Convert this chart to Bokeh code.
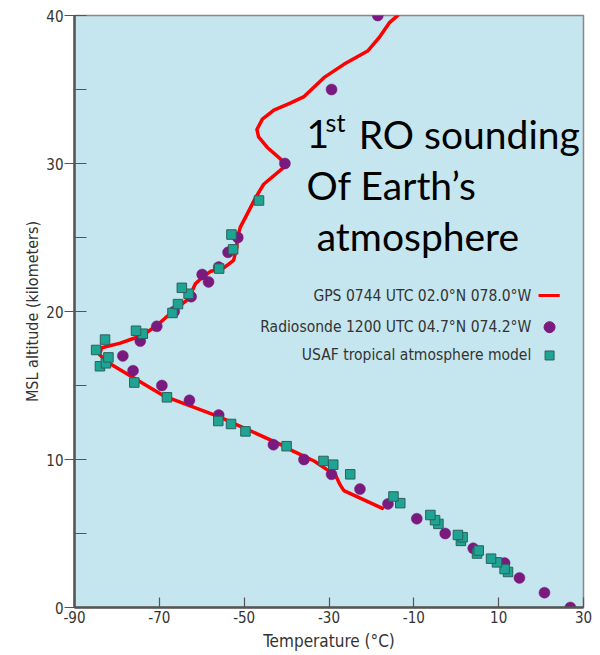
from bokeh.plotting import figure
from bokeh.models import FixedTicker, Range1d
from bokeh.core.properties import value
from bokeh.embed import file_html
from bokeh.resources import INLINE

# ---- data ----
gps_temp = [-17.4, -26.5, -27.4, -28.4, -30.4, -33.5, -38.7, -39.8, -56.0, -69.0,
            -82.4, -84.1, -83.6, -79.2, -75.3, -72.9, -70.6, -66.6, -63.1, -61.5,
            -59.9, -58.0, -54.8, -52.5, -51.7, -51.7, -50.9, -48.9, -47.3, -45.4,
            -40.6, -41.4, -44.6, -46.6, -47.0, -45.7, -43.0, -39.0, -36.0, -31.2,
            -26.5, -20.9, -18.2, -15.8, -13.8]
gps_alt = [6.7, 7.9, 8.3, 8.9, 9.3, 9.9, 10.6, 10.8, 12.9, 14.3,
           16.6, 17.1, 17.55, 17.86, 18.26, 18.6, 19.05, 20.07, 20.86, 21.87,
           22.3, 22.7, 22.95, 23.45, 24.35, 24.9, 25.7, 26.8, 27.7, 28.6,
           29.75, 30.3, 31.1, 31.8, 32.3, 33.0, 33.6, 34.1, 34.5, 35.8,
           36.7, 37.6, 38.5, 39.5, 40.0]

sonde_temp = [26.9, 20.8, 14.9, 11.4, 4.0, -2.6, -9.3, -16.1, -22.7, -29.4,
              -35.9, -43.1, -56.0, -62.9, -69.4, -76.2, -78.6, -74.5, -70.6, -66.5,
              -62.5, -58.4, -59.9, -56.0, -53.8, -51.5, -40.4, -29.4, -18.5]
sonde_alt = [0.0, 1.0, 2.0, 3.0, 4.0, 5.0, 6.0, 7.0, 8.0, 9.0,
             10.0, 11.0, 13.0, 14.0, 15.0, 16.0, 17.0, 18.0, 19.0, 20.0,
             21.0, 22.0, 22.5, 23.0, 24.0, 25.0, 30.0, 35.0, 40.0]

usaf_temp = [12.2, 11.4, 9.6, 8.2, 4.9, 5.3, 1.1, 1.5, 0.4, -4.2,
             -5.0, -6.1, -13.2, -14.8, -25.0, -29.0, -31.3, -40.0, -49.7, -53.1,
             -56.1, -68.2, -75.9, -84.0, -82.6, -82.0, -84.9, -82.8, -73.9, -75.5,
             -66.9, -65.6, -63.1, -64.7, -55.9, -52.6, -53.0, -46.5]
usaf_alt = [2.4, 2.6, 3.05, 3.3, 3.65, 3.85, 4.5, 4.75, 4.9, 5.65,
            5.9, 6.25, 7.05, 7.5, 9.0, 9.65, 9.9, 10.9, 11.9, 12.4,
            12.6, 14.2, 15.2, 16.3, 16.5, 16.9, 17.4, 18.1, 18.5, 18.7,
            19.9, 20.5, 21.2, 21.6, 22.9, 24.2, 25.2, 27.5]

x_ticks = [-90, -70, -50, -30, -10, 10, 30]
y_ticks = [0, 10, 20, 30, 40]
y_minor = [5, 15, 25, 35]

legend_labels = ["GPS 0744 UTC 02.0\u00b0N 078.0\u00b0W",
                 "Radiosonde 1200 UTC 04.7\u00b0N 074.2\u00b0W",
                 "USAF tropical atmosphere model"]

# ---- style ----
BG = "#c5e6ee"
RED = "#ff0000"
PURPLE = "#7b1a7e"
TEAL = "#1fa393"
TEAL_EDGE = "#2b625e"
AXIS_FONT = "DejaVu Sans Condensed"
TXT = "#333333"

p = figure(width=592, height=653, output_backend="svg", toolbar_location=None,
           x_range=Range1d(-90, 30), y_range=Range1d(0, 40),
           min_border_left=74, min_border_right=9, min_border_top=15, min_border_bottom=46)
p.background_fill_color = BG
p.border_fill_color = "white"
p.outline_line_color = "#888888"
p.outline_line_width = 1.5
p.grid.visible = False

p.xaxis.ticker = FixedTicker(ticks=x_ticks, minor_ticks=[])
p.yaxis.ticker = FixedTicker(ticks=y_ticks, minor_ticks=y_minor)
p.xaxis.major_label_overrides = {t: str(t) for t in x_ticks}
p.yaxis.major_label_overrides = {t: str(t) for t in y_ticks}

for ax in (p.xaxis[0], p.yaxis[0]):
    ax.axis_line_color = "#555555"
    ax.axis_line_width = 2.5
    ax.major_tick_line_color = "#555555"
    ax.minor_tick_line_color = "#555555"
    ax.major_tick_line_width = 1.2
    ax.minor_tick_line_width = 1.2
    ax.major_label_text_font = AXIS_FONT
    ax.major_label_text_font_size = "15px"
    ax.major_label_text_color = TXT
    ax.axis_label_text_font = AXIS_FONT
    ax.axis_label_text_font_style = "normal"
    ax.axis_label_text_color = TXT

p.xaxis.major_tick_in = 10
p.xaxis.major_tick_out = 0
p.xaxis.major_label_standoff = 3
p.xaxis.axis_label = "Temperature (\u00b0C)"
p.xaxis.axis_label_text_font_size = "17px"
p.xaxis.axis_label_standoff = 5

p.yaxis.major_tick_in = 12
p.yaxis.major_tick_out = 10
p.yaxis.minor_tick_in = 12
p.yaxis.minor_tick_out = 0
p.yaxis.major_label_standoff = 1
p.yaxis.axis_label = "MSL altitude (kilometers)"
p.yaxis.axis_label_text_font_size = "16px"
p.yaxis.axis_label_standoff = 1

# ---- data marks ----
p.line(gps_temp, gps_alt, line_color=RED, line_width=3.5, line_join="round", line_cap="round")
p.scatter(sonde_temp, sonde_alt, marker="circle", size=11, fill_color=PURPLE,
          line_color=PURPLE, line_width=0.5)
p.scatter(usaf_temp, usaf_alt, marker="square", size=9.5, fill_color=TEAL,
          line_color=TEAL_EDGE, line_width=1)

# ---- legend (text on the left, glyph on the right) ----
leg_x = 17.7
leg_y = [21.08, 18.94, 17.03]
p.text(x=[leg_x] * 3, y=leg_y, text=legend_labels, text_align="right",
       text_baseline="middle", text_font=value(AXIS_FONT), text_font_size="15.5px",
       text_color=TXT)
p.segment(x0=[19.4], y0=[leg_y[0]], x1=[24.4], y1=[leg_y[0]], line_color=RED, line_width=3)
p.scatter([22.0], [leg_y[1]], marker="circle", size=11, fill_color=PURPLE, line_color=PURPLE)
p.scatter([22.0], [leg_y[2]], marker="square", size=9, fill_color=TEAL,
          line_color=TEAL_EDGE, line_width=1)

# ---- big annotation ----
BIG = "Lato"
FS = "39px"
p.text(x=[-35.3], y=[32.0], text=["1"], text_font=value(BIG), text_font_size=FS,
       text_baseline="alphabetic", text_align="left", text_color="black")
p.text(x=[-30.8], y=[32.8], text=["st"], text_font=value(BIG), text_font_size="25px",
       text_baseline="alphabetic", text_align="left", text_color="black")
p.text(x=[-23.0], y=[32.0], text=["RO sounding"], text_font=value(BIG), text_font_size=FS,
       text_baseline="alphabetic", text_align="left", text_color="black")
p.text(x=[-35.3], y=[28.57], text=["Of Earth\u2019s"], text_font=value(BIG), text_font_size=FS,
       text_baseline="alphabetic", text_align="left", text_color="black")
p.text(x=[-32.9], y=[25.12], text=["atmosphere"], text_font=value(BIG), text_font_size=FS,
       text_baseline="alphabetic", text_align="left", text_color="black")

open("out.html", "w").write(file_html(p, INLINE))
